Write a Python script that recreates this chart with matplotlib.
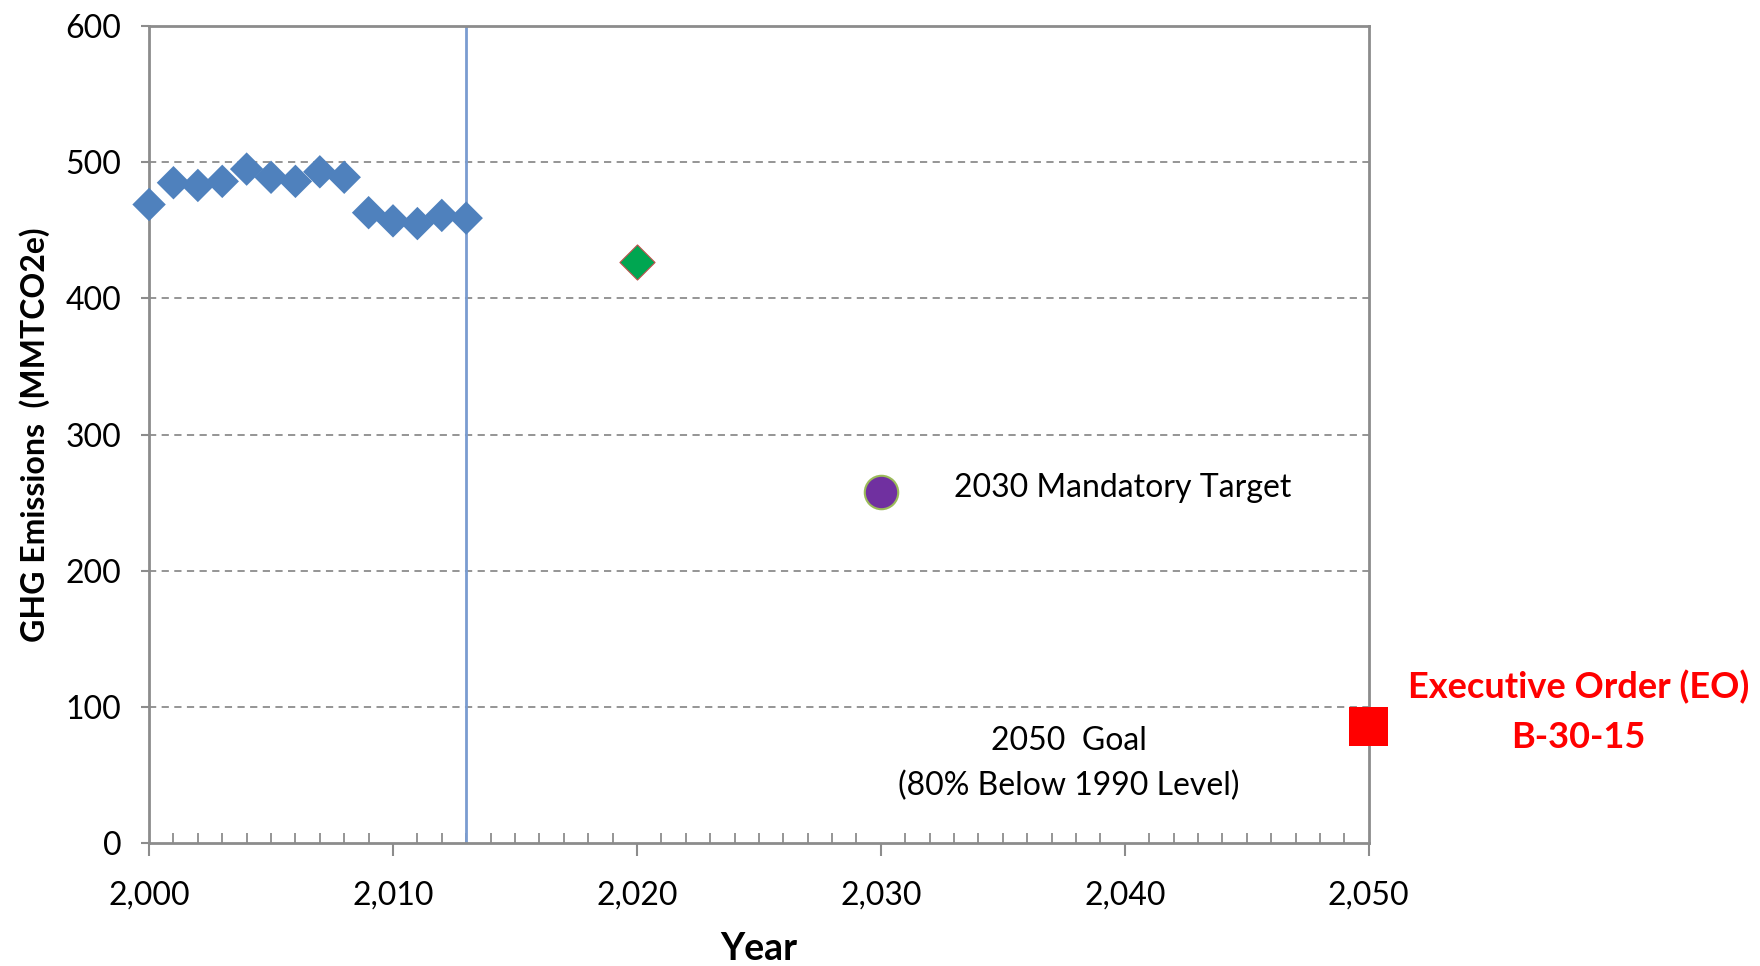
import matplotlib
matplotlib.use("Agg")
import matplotlib.pyplot as plt
from matplotlib.ticker import FuncFormatter, MultipleLocator

plt.rcParams['font.family'] = ['Lato', 'DejaVu Sans']

years = [2000, 2001, 2002, 2003, 2004, 2005, 2006, 2007, 2008, 2009, 2010, 2011, 2012, 2013]
emissions = [469, 485, 483, 486, 495, 489, 486, 493, 489, 463, 457, 455, 461, 459]
target_2020_year = [2020]
target_2020_value = [427]
target_2030_year = [2030]
target_2030_value = [258]
goal_2050_year = [2050]
goal_2050_value = [86]
current_year_line = 2013

fig = plt.figure(figsize=(17.6, 9.66), dpi=100)
ax = fig.add_axes([0.0847, 0.127, 0.693, 0.846])

grid_color = '#8c8c8c'
for y in [100, 200, 300, 400, 500]:
    ax.axhline(y, color=grid_color, lw=1.3, ls=(0, (4, 3)), zorder=1)

ax.axvline(current_year_line, color='#7a9cd0', lw=2, zorder=2)

ax.scatter(years, emissions, marker='D', s=290, color='#4f81bd', edgecolors='none', zorder=3,
           clip_on=False)
ax.scatter(target_2020_year, target_2020_value, marker='D', s=320, color='#00a651',
           edgecolors='#c0504d', linewidths=0.8, zorder=3)
ax.scatter(target_2030_year, target_2030_value, marker='o', s=580, color='#7030a0',
           edgecolors='#9bbb59', linewidths=1.5, zorder=3)
ax.scatter(goal_2050_year, goal_2050_value, marker='s', s=800, color='#ff0000',
           edgecolors='none', zorder=4, clip_on=False)

ax.set_xlim(2000, 2050)
ax.set_ylim(0, 600)
ax.xaxis.set_major_locator(MultipleLocator(10))
ax.xaxis.set_minor_locator(MultipleLocator(1))
ax.yaxis.set_major_locator(MultipleLocator(100))
ax.xaxis.set_major_formatter(FuncFormatter(lambda v, p: f"{int(v):,}"))

for s in ax.spines.values():
    s.set_color('#8c8c8c')
    s.set_linewidth(2)

ax.tick_params(axis='x', which='major', direction='out', length=9, width=1.5,
               color='#8c8c8c', labelsize=23, pad=18)
ax.tick_params(axis='x', which='minor', direction='in', length=7, width=1.3,
               color='#8c8c8c')
ax.tick_params(axis='y', which='major', direction='out', length=6, width=1.5,
               color='#8c8c8c', labelsize=23, pad=14)

ax.set_xlabel('Year', fontsize=27, fontweight='bold', labelpad=15)
ax.set_ylabel('GHG Emissions  (MMTCO2e)', fontsize=23, fontweight='bold', labelpad=11)

ax.text(2033.0, 261, '2030 Mandatory Target', fontsize=23, va='center', ha='left')
ax.text(2037.7, 75, '2050  Goal', fontsize=23, va='center', ha='center')
ax.text(2037.7, 42, '(80% Below 1990 Level)', fontsize=23, va='center', ha='center')
ax.text(2058.6, 115, 'Executive Order (EO)', fontsize=26, fontweight='bold', color='#ff0000',
        va='center', ha='center', clip_on=False)
ax.text(2058.6, 78, 'B-30-15', fontsize=26, fontweight='bold', color='#ff0000',
        va='center', ha='center', clip_on=False)

fig.savefig('out.png', dpi=100)
